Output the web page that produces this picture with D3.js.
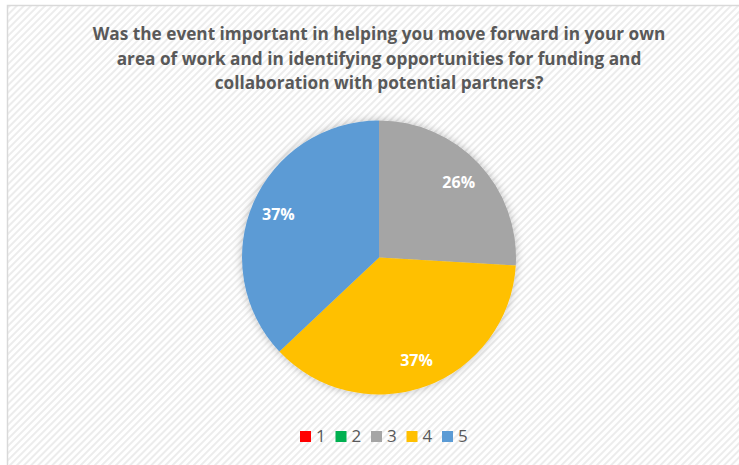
<!DOCTYPE html>
<html>
<head>
<meta charset="utf-8">
<script src="https://cdn.jsdelivr.net/npm/d3@7"></script>
<style>
  html, body { margin: 0; padding: 0; background: #fff; overflow: hidden; }
  svg { display: block; }
</style>
</head>
<body>
<div id="chart"></div>
<script>
// chart data
const categories = ["1", "2", "3", "4", "5"];
const counts = [0, 0, 7, 10, 10];
const colors = ["#FF0000", "#00B050", "#A5A5A5", "#FFC000", "#5B9BD5"];
const titleLines = [
  "Was the event important in helping you move forward in your own",
  "area of work and in identifying opportunities for funding and",
  "collaboration with potential partners?"
];

const width = 739;
const height = 465;
const cx = 379, cy = 257.5, radius = 137;
const fontFamily = "'Open Sans', 'Noto Sans', sans-serif";

const svg = d3.select("#chart").append("svg")
  .attr("width", width)
  .attr("height", height);

const defs = svg.append("defs");

// diagonal hatch background
let pattern = defs.append("pattern")
  .attr("id", "hatch")
  .attr("patternUnits", "userSpaceOnUse")
  .attr("width", 5)
  .attr("height", 5)
  .attr("patternTransform", "rotate(45)");
pattern.append("rect").attr("width", 5).attr("height", 5).attr("fill", "#ffffff");
pattern.append("rect").attr("width", 2).attr("height", 5).attr("fill", "#ececec");

let shadow = defs.append("filter")
  .attr("id", "shadow")
  .attr("x", "-20%").attr("y", "-20%")
  .attr("width", "140%").attr("height", "140%");
shadow.append("feDropShadow")
  .attr("dx", 0).attr("dy", 0)
  .attr("stdDeviation", 4)
  .attr("flood-color", "#000")
  .attr("flood-opacity", 0.25);

// chart area frame
svg.append("rect")
  .attr("x", 7.5)
  .attr("y", 5.5)
  .attr("width", 760)
  .attr("height", 480)
  .attr("fill", "url(#hatch)")
  .attr("stroke", "#d9d9d9")
  .attr("stroke-width", 1.5);

// title
let title = svg.append("text")
  .attr("text-anchor", "middle")
  .style("font-family", fontFamily)
  .style("font-weight", "bold")
  .style("font-size", "16px")
  .attr("fill", "#595959");

title.selectAll("tspan")
  .data(titleLines)
  .enter()
  .append("tspan")
  .attr("x", cx)
  .attr("y", (d, i) => 40 + i * 24.5)
  .text(d => d);

// fit the first line to the reference width
let firstLen = title.select("tspan").node().getComputedTextLength();
title.style("font-size", (16 * 573 / firstLen) + "px");

// pie
const pie = d3.pie().sort(null).value(d => d.value);
const arcs = pie(categories.map((c, i) => ({ name: c, value: counts[i], color: colors[i] })));

const arc = d3.arc().innerRadius(0).outerRadius(radius);
const labelArc = d3.arc().innerRadius(radius * 0.8).outerRadius(radius * 0.8);

const total = d3.sum(counts);

let g = svg.append("g").attr("transform", `translate(${cx}, ${cy})`);

g.append("g")
  .attr("filter", "url(#shadow)")
  .selectAll("path")
  .data(arcs.filter(d => d.value > 0))
  .enter()
  .append("path")
  .attr("d", arc)
  .attr("fill", d => d.data.color);

g.selectAll(".label")
  .data(arcs.filter(d => d.value > 0))
  .enter()
  .append("text")
  .attr("class", "label")
  .attr("transform", d => `translate(${labelArc.centroid(d)})`)
  .attr("text-anchor", "middle")
  .attr("dy", "0.35em")
  .style("font-family", fontFamily)
  .style("font-weight", "bold")
  .style("font-size", "16px")
  .attr("fill", "#ffffff")
  .text(d => Math.round(d.value / total * 100) + "%");

// legend
let itemSize = 11;
let itemStep = 35.5;
let legendX = 300;
let legendY = 431;

let legend = svg.append("g");

let items = legend.selectAll("g")
  .data(categories)
  .enter()
  .append("g")
  .attr("transform", (d, i) => `translate(${legendX + i * itemStep}, ${legendY})`);

items.append("rect")
  .attr("width", itemSize)
  .attr("height", itemSize)
  .attr("fill", (d, i) => colors[i]);

items.append("text")
  .attr("x", itemSize + 5)
  .attr("y", itemSize)
  .style("font-family", fontFamily)
  .style("font-size", "17px")
  .attr("fill", "#595959")
  .text(d => d);
</script>
</body>
</html>
